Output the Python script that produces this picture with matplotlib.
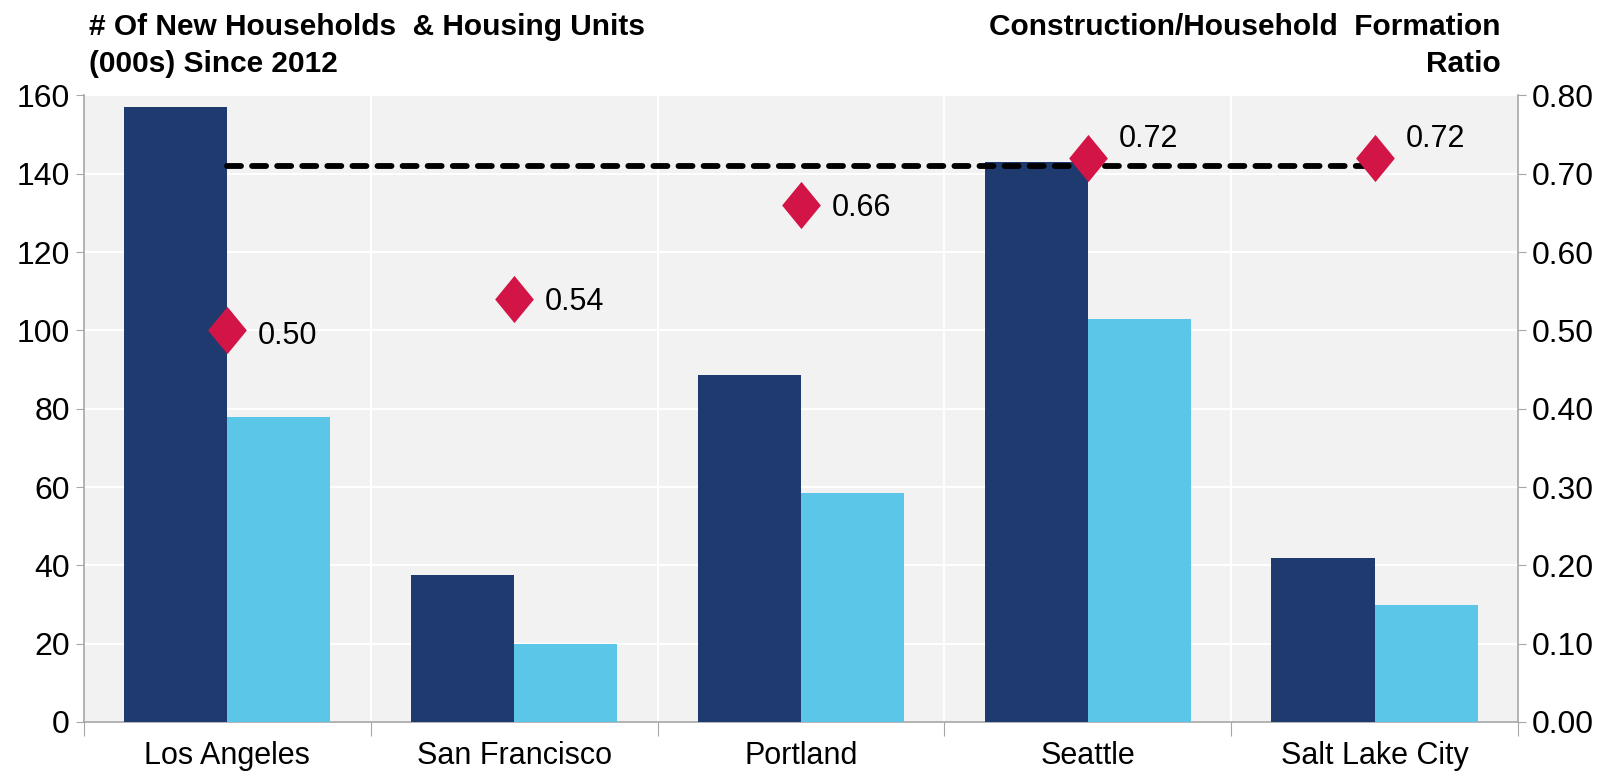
import matplotlib
matplotlib.use('Agg')
import matplotlib.pyplot as plt
from matplotlib.ticker import FixedLocator, NullFormatter

# Datos
cities = ['Los Angeles', 'San Francisco', 'Portland', 'Seattle', 'Salt Lake City']
households = [157, 37.5, 88.5, 143, 42]     # nuevos hogares (miles)
housing_units = [78, 20, 58.5, 103, 30]     # nuevas viviendas (miles)
ratio = [0.50, 0.54, 0.66, 0.72, 0.72]      # construcción / formación de hogares
ratio_labels = ['0.50', '0.54', '0.66', '0.72', '0.72']
avg_ratio = 0.71                            # línea punteada

left_ticks = [0, 20, 40, 60, 80, 100, 120, 140, 160]
right_ticks = [0.0, 0.1, 0.2, 0.3, 0.4, 0.5, 0.6, 0.7, 0.8]

DARK = '#1F3A6E'
LIGHT = '#5BC6E8'
RED = '#D31447'
GRID_BG = '#F2F2F2'
SPINE = '#A6A6A6'

plt.rcParams['font.family'] = ['Liberation Sans Narrow', 'Liberation Sans', 'DejaVu Sans']

fig = plt.figure(figsize=(16.1, 7.8), dpi=100)
ax = fig.add_axes([0.052, 0.0744, 0.891, 0.8032])
ax.set_facecolor(GRID_BG)

x = list(range(len(cities)))
w = 0.36
ax.bar([i - w / 2 for i in x], households, width=w, color=DARK, zorder=3)
ax.bar([i + w / 2 for i in x], housing_units, width=w, color=LIGHT, zorder=3)

ax.set_xlim(-0.5, len(cities) - 0.5)
ax.set_ylim(0, 160)
ax.set_yticks(left_ticks)
ax.tick_params(axis='y', labelsize=23, length=6, color=SPINE, pad=4)

# ticks del eje x en los límites de categoría, etiquetas en el centro
ax.xaxis.set_major_locator(FixedLocator([i - 0.5 for i in range(len(cities) + 1)]))
ax.xaxis.set_major_formatter(NullFormatter())
ax.xaxis.set_minor_locator(FixedLocator(x))
ax.set_xticklabels(cities, minor=True)
ax.tick_params(axis='x', which='major', length=10, color=SPINE)
ax.tick_params(axis='x', which='minor', length=0, labelsize=22, pad=14)

ax.grid(True, which='major', color='white', linewidth=1.5, zorder=0)
ax.set_axisbelow(True)
for s in ['top', 'right']:
    ax.spines[s].set_visible(False)
for s in ['left', 'bottom']:
    ax.spines[s].set_color(SPINE)
    ax.spines[s].set_linewidth(1.2)

ax2 = ax.twinx()
ax2.set_ylim(0, 0.8)
ax2.set_yticks(right_ticks)
ax2.set_yticklabels([f'{t:.2f}' for t in right_ticks])
ax2.tick_params(axis='y', labelsize=23, length=6, color=SPINE, pad=4)
for s in ['top', 'left', 'bottom']:
    ax2.spines[s].set_visible(False)
ax2.spines['right'].set_color(SPINE)
ax2.spines['right'].set_linewidth(1.2)

ax2.plot([x[0], x[-1]], [avg_ratio, avg_ratio], color='black', linewidth=4.2,
         dashes=(2.4, 1.9), dash_capstyle='round', zorder=4)

diamond = [(0, 1), (0.82, 0), (0, -1), (-0.82, 0), (0, 1)]
ax2.plot(x, ratio, linestyle='none', marker=diamond, markersize=34,
         color=RED, markeredgewidth=0, zorder=5)

offsets = [(-4, 0), (-2, 0), (-2, 0), (14, 0), (14, 0)]
for i, (r, lab) in enumerate(zip(ratio, ratio_labels)):
    dy = offsets[i][0]
    ax2.annotate(lab, (i, r), xytext=(22, dy), textcoords='offset points',
                 fontsize=22, va='center', ha='left', zorder=6)

fig.text(0.055, 0.983, '# Of New Households  & Housing Units\n(000s) Since 2012',
         fontsize=21.5, fontweight='bold', ha='left', va='top', linespacing=1.42)
fig.text(0.932, 0.983, 'Construction/Household  Formation\nRatio',
         fontsize=21.5, fontweight='bold', ha='right', va='top', linespacing=1.42,
         multialignment='right')

fig.savefig('out.png', dpi=100)
